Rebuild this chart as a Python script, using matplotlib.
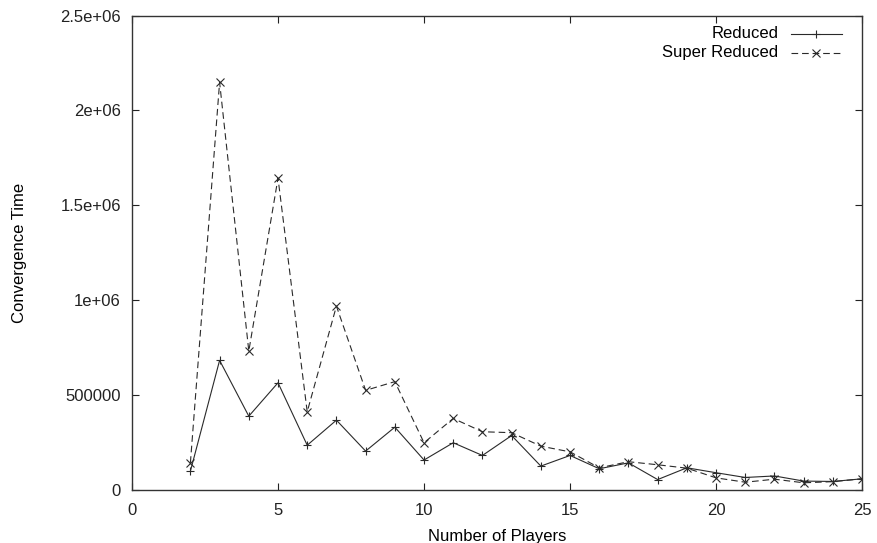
import numpy as np
import matplotlib
matplotlib.use('Agg')
import matplotlib.pyplot as plt
from matplotlib.lines import Line2D

plt.rcParams['font.family'] = ['Liberation Sans', 'DejaVu Sans']

## CONVERGENCE DATA
players = list(range(2, 26))
reduced = [99e3, 683e3, 389e3, 565e3, 236e3, 368e3, 205e3, 331e3, 158e3,
           249e3, 182e3, 287e3, 126e3, 182e3, 112e3, 143e3, 55e3, 117e3,
           91e3, 66e3, 74e3, 47e3, 45e3, 59e3]
super_reduced = [143e3, 2148e3, 732e3, 1643e3, 412e3, 969e3, 525e3, 571e3,
                 249e3, 377e3, 307e3, 302e3, 231e3, 201e3, 117e3, 149e3,
                 133e3, 115e3, 64e3, 41e3, 57e3, 38e3, 44e3, 59e3]

xticks = [0, 5, 10, 15, 20, 25]
yticks = [0, 500000, 1000000, 1500000, 2000000, 2500000]
ytick_labels = ['0', '500000', '1e+06', '1.5e+06', '2e+06', '2.5e+06']

fig = plt.figure(figsize=(8.77, 5.43), dpi=100)
ax = fig.add_axes([0.1505, 0.0976, 0.8325, 0.8738])

line_col = '#2a2a2a'
dash = (0, (6, 3.5))

ax.plot(players, reduced, color=line_col, lw=0.8, marker='+', ms=6, mew=0.8)
ax.plot(players, super_reduced, color=line_col, lw=0.8, ls=dash, marker='x', ms=6, mew=0.8)

ax.set_xlim(0, 25)
ax.set_ylim(0, 2.5e6)
ax.set_xticks(xticks)
ax.set_yticks(yticks)
ax.set_yticklabels(ytick_labels)
ax.tick_params(direction='in', length=5, width=0.8, top=True, right=True,
               labelsize=12, colors='#222222')
ax.tick_params(axis='x', pad=9)
ax.tick_params(axis='y', pad=8)
for s in ax.spines.values():
    s.set_linewidth(1.0)
    s.set_color('#333333')

ax.set_xlabel('Number of Players', fontsize=12, labelpad=8)
ax.set_ylabel('Convergence Time', fontsize=12, labelpad=24)

# key in the top right corner, labels right-aligned like gnuplot
keys = [('Reduced', '-', '+'), ('Super Reduced', dash, 'x')]
for i, (lab, ls, mk) in enumerate(keys):
    yk = 0.962 - i * 0.040
    ax.text(0.885, yk, lab, transform=ax.transAxes, ha='right', va='center', fontsize=12)
    ax.add_line(Line2D([0.903, 0.972], [yk, yk], transform=ax.transAxes, color=line_col,
                       lw=0.8, ls=ls))
    ax.add_line(Line2D([0.9375], [yk], transform=ax.transAxes, color=line_col,
                       marker=mk, ms=6, mew=0.8))

fig.savefig('out.png', dpi=100)
